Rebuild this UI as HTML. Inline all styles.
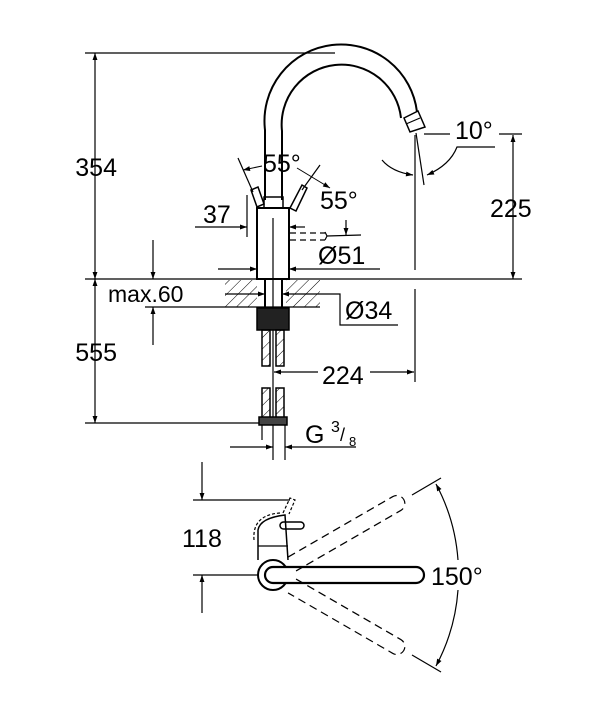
<!DOCTYPE html>
<html><head><style>
html,body{margin:0;padding:0;background:#fff;}
svg text{font-family:"Liberation Sans",sans-serif;fill:#000;}
</style></head><body>
<svg width="607" height="720" viewBox="0 0 607 720" xmlns="http://www.w3.org/2000/svg">
<defs>
<marker id="a" viewBox="0 0 10 10" refX="10" refY="5" markerWidth="10" markerHeight="7" orient="auto-start-reverse" markerUnits="userSpaceOnUse"><path d="M0,1.5 L10,5 L0,8.5z" fill="#000"/></marker>
<pattern id="h" width="8" height="8" patternUnits="userSpaceOnUse" patternTransform="rotate(45)"><line x1="0" y1="0" x2="0" y2="8" stroke="#000" stroke-width="1"/></pattern>
</defs>
<g stroke="#000" stroke-width="1.2" fill="none">
<line x1="85" y1="53" x2="335" y2="53"/>
<line x1="95" y1="53" x2="95" y2="279" marker-start="url(#a)" marker-end="url(#a)"/>
<line x1="85" y1="279" x2="522" y2="279"/>
<line x1="95" y1="279" x2="95" y2="423" marker-start="url(#a)" marker-end="url(#a)"/>
<line x1="85" y1="423" x2="265" y2="423"/>
<path d="M265,200 L265,130 A76,76 0 0 1 417,112" stroke-width="2"/>
<path d="M282,200 L282,131 A59,59 0 0 1 401,118" stroke-width="2"/>
<path d="M404,118 L418,111 L425,127 L410,132 Z" stroke-width="1.5"/>
<line x1="406" y1="124" x2="420" y2="118"/>
<line x1="415" y1="135" x2="415" y2="270"/>
<line x1="415" y1="289" x2="415" y2="382"/>
<line x1="416" y1="133" x2="424" y2="185"/>
<line x1="424" y1="134" x2="450" y2="134"/>
<line x1="499" y1="134" x2="522" y2="134"/>
<path d="M382,160 Q392,172 413,175" marker-end="url(#a)"/>
<path d="M495,147 L457,147 Q450,165 427,175" marker-end="url(#a)"/>
<line x1="513" y1="135" x2="513" y2="279" marker-start="url(#a)" marker-end="url(#a)"/>
<rect x="257" y="208" width="32" height="71" stroke-width="2"/>
<rect x="264" y="197" width="19" height="11" stroke-width="1.5"/>
<line x1="273" y1="218" x2="273" y2="460"/>
<path d="M251,190 L258,187 L264,204 L257,207 Z" stroke-width="1.5"/>
<path d="M290,208 L302,185 L307,188 L296,211 Z" stroke-width="1.5"/>
<line x1="238" y1="158" x2="253" y2="192"/>
<line x1="320" y1="165" x2="302" y2="190"/>
<line x1="262" y1="166" x2="243" y2="170" marker-end="url(#a)" stroke-width="1"/>
<line x1="297" y1="168" x2="330" y2="188" marker-end="url(#a)" stroke-width="1"/>
<line x1="247" y1="195" x2="247" y2="237"/>
<line x1="195" y1="227" x2="247" y2="227" marker-end="url(#a)"/>
<line x1="305" y1="227" x2="289" y2="227" marker-end="url(#a)"/>
<line x1="290" y1="233" x2="325" y2="233" stroke-dasharray="6,4"/>
<line x1="290" y1="240" x2="325" y2="240" stroke-dasharray="6,4"/>
<path d="M325,232 L327,236 L325,240"/>
<line x1="327" y1="236" x2="361" y2="235"/>
<line x1="346" y1="220" x2="346" y2="235" marker-end="url(#a)"/>
<line x1="218" y1="269" x2="257" y2="269" marker-end="url(#a)"/>
<line x1="380" y1="269" x2="289" y2="269" marker-end="url(#a)"/>
<rect x="225" y="280" width="32" height="27" fill="url(#h)" stroke="none"/>
<rect x="286" y="280" width="34" height="27" fill="url(#h)" stroke="none"/>
<line x1="145" y1="307" x2="320" y2="307"/>
<line x1="265" y1="279" x2="265" y2="307" stroke-width="2"/>
<line x1="282" y1="279" x2="282" y2="307" stroke-width="2"/>
<line x1="153" y1="240" x2="153" y2="279" marker-end="url(#a)"/>
<line x1="153" y1="345" x2="153" y2="307" marker-end="url(#a)"/>
<line x1="225" y1="294" x2="265" y2="294" marker-end="url(#a)"/>
<path d="M282,294 L340,294 L340,325 L398,325" marker-start="url(#a)"/>
<rect x="257" y="308" width="32" height="22" fill="#222" stroke-width="1.5"/>
<rect x="262" y="330" width="8" height="36" fill="url(#h)" stroke-width="1.5"/>
<rect x="276" y="330" width="8" height="36" fill="url(#h)" stroke-width="1.5"/>
<rect x="262" y="388" width="8" height="30" fill="url(#h)" stroke-width="1.5"/>
<rect x="276" y="388" width="8" height="30" fill="url(#h)" stroke-width="1.5"/>
<rect x="259" y="417" width="28" height="8" fill="#444" stroke-width="1.5"/>
<line x1="285" y1="425" x2="285" y2="460"/>
<line x1="262" y1="425" x2="262" y2="440"/>
<line x1="318" y1="372" x2="274" y2="372" marker-end="url(#a)"/>
<line x1="370" y1="372" x2="414" y2="372" marker-end="url(#a)"/>
<line x1="230" y1="447" x2="273" y2="447" marker-end="url(#a)"/>
<line x1="356" y1="447" x2="285" y2="447" marker-end="url(#a)"/>
<line x1="193" y1="500" x2="290" y2="500"/>
<line x1="193" y1="575" x2="262" y2="575"/>
<line x1="202" y1="462" x2="202" y2="500" marker-end="url(#a)"/>
<line x1="202" y1="613" x2="202" y2="575" marker-end="url(#a)"/>
<path d="M258,560 L258,530 Q260,518 285,515 L288,560" stroke-width="1.5"/>
<path d="M254,540 Q252,515 280,513" stroke-dasharray="3,2"/>
<line x1="258" y1="546" x2="288" y2="546"/>
<rect x="280" y="522" width="24" height="7" rx="3.5" stroke-width="1.5"/>
<path d="M283,513 L290,498 L295,500 L289,514" stroke-dasharray="3,2"/>
<circle cx="273" cy="575" r="15" stroke-width="2" fill="#fff"/>
<path d="M273,567 L416,567 A8,8 0 0 1 416,583 L273,583 A8,8 0 0 1 273,567 Z" stroke-width="2.2" fill="#fff"/>
<g transform="rotate(-30 273 575)" stroke-dasharray="8,5">
<path d="M295,567 L416,567 A8,8 0 0 1 416,583 L295,583"/>
</g>
<g transform="rotate(30 273 575)" stroke-dasharray="8,5">
<path d="M295,567 L416,567 A8,8 0 0 1 416,583 L295,583"/>
</g>
<line x1="412" y1="495" x2="441" y2="478"/>
<line x1="412" y1="655" x2="441" y2="672"/>
<path d="M436,484 A190,190 0 0 1 458,560" marker-start="url(#a)"/>
<path d="M458,590 A190,190 0 0 1 436,666" marker-end="url(#a)"/>
</g>
<g font-size="25">
<text x="117" y="176" text-anchor="end">354</text>
<text x="117" y="361" text-anchor="end">555</text>
<text x="108" y="302" font-size="23">max.60</text>
<text x="203" y="223">37</text>
<text x="263" y="172">55°</text>
<text x="320" y="209">55°</text>
<text x="318" y="264">Ø51</text>
<text x="345" y="319">Ø34</text>
<text x="455" y="139">10°</text>
<text x="490" y="217">225</text>
<text x="322" y="384">224</text>
<text x="305" y="443">G</text>
<text x="331" y="432" font-size="16">3</text>
<text x="340" y="441" font-size="18">/</text>
<text x="349" y="446" font-size="13">8</text>
<text x="182" y="547">118</text>
<text x="431" y="585">150°</text>
</g>
</svg>
</body></html>
